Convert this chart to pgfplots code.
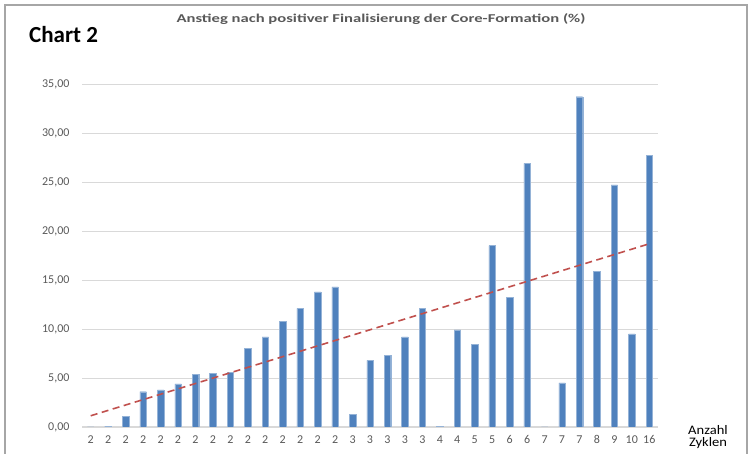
\documentclass[border=0pt]{standalone}
\usepackage{pgfplots}
\usepackage{pgfplotstable}
\pgfplotsset{compat=1.18}
\usepackage{fontspec}
\setmainfont{Carlito}
\definecolor{barblue}{HTML}{4F81BD}
\definecolor{trendred}{HTML}{C0504D}
\definecolor{txtgray}{HTML}{595959}
\definecolor{gridgray}{HTML}{D9D9D9}
\pgfplotstableread{
x y
1 0.0
2 0.1
3 1.1
4 3.6
5 3.8
6 4.4
7 5.4
8 5.5
9 5.6
10 8.0
11 9.2
12 10.8
13 12.1
14 13.8
15 14.3
16 1.3
17 6.8
18 7.3
19 9.2
20 12.1
21 0.1
22 9.9
23 8.4
24 18.5
25 13.2
26 26.9
27 0.0
28 4.5
29 33.7
30 15.9
31 24.7
32 9.5
33 27.7
}\datatable
\begin{document}
\begin{tikzpicture}
\path[use as bounding box] (0pt,0pt) rectangle (753pt,454pt);
\draw[gray!70, line width=1.2pt] (5pt,0pt) -- (5pt,449pt) -- (747pt,449pt) -- (747pt,0pt);
\node[anchor=west, inner sep=0pt, font=\fontsize{23}{25}\selectfont\bfseries] at (29pt,419pt) {Chart 2};
\node[xscale=1.385, font=\fontsize{12}{13}\selectfont\bfseries, text=txtgray] at (381pt,435pt) {Anstieg nach positiver Finalisierung der Core-Formation (\%)};
\node[align=center, xscale=1.12, font=\fontsize{13}{12.5}\selectfont] at (708pt,17pt) {Anzahl\\Zyklen};
\begin{axis}[
  at={(82pt,27pt)}, anchor=south west,
  scale only axis, width=576pt, height=343pt,
  xmin=0.5, xmax=33.5, ymin=0, ymax=35,
  ytick={0,5,...,35},
  xtick={1,...,33},
  xticklabels={2,2,2,2,2,2,2,2,2,2,2,2,2,2,2,3,3,3,3,3,4,4,5,5,6,6,7,7,7,8,9,10,16},
  ymajorgrids, grid style={gridgray, line width=0.8pt},
  axis x line*=bottom, axis y line*=left,
  x axis line style={gridgray, line width=1pt},
  y axis line style={draw=none},
  major tick length=0pt,
  tick label style={font=\fontsize{12}{13}\selectfont, text=txtgray},
  yticklabel style={xshift=-9pt},
  xticklabel style={yshift=-5pt},
  /pgf/number format/.cd, fixed, fixed zerofill, precision=2, use comma, assume math mode=true,
]
\addplot[ybar, bar width=6.5pt, fill=barblue, draw=barblue!60!white, line width=0.4pt] table[x=x, y=y] {\datatable};
\addplot[trendred, line width=1.6pt, dash pattern=on 7pt off 4.5pt] table[x=x, y={create col/linear regression={y=y}}] {\datatable};
\end{axis}
\end{tikzpicture}
\end{document}
